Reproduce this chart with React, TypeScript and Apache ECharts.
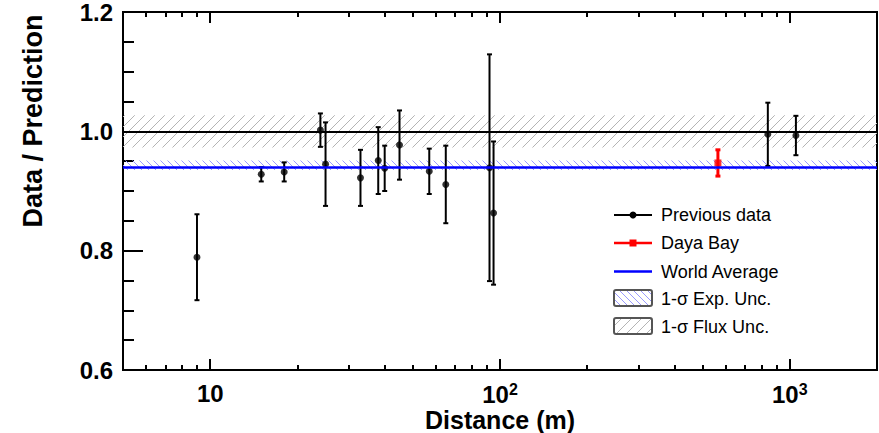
import React, { useEffect, useRef } from 'react';
import * as echarts from 'echarts';

// Previous reactor experiments: baseline (m), data/prediction ratio, 1-sigma error
const distances = [9, 15, 18, 24, 25, 33, 38, 40, 45, 57, 65, 92, 95, 840, 1050];
const ratios = [0.789, 0.928, 0.932, 1.002, 0.945, 0.922, 0.951, 0.938, 0.977, 0.933, 0.911, 0.939, 0.863, 0.995, 0.993];
const errors = [0.072, 0.012, 0.016, 0.028, 0.07, 0.047, 0.056, 0.038, 0.058, 0.038, 0.065, 0.19, 0.12, 0.053, 0.033];

// Daya Bay
const dayaBayDistance = [565];
const dayaBayRatio = [0.947];
const dayaBayError = [0.022];

// Reference lines and bands
const predictionRatio = 1.0;
const fluxUnc = 0.027;
const worldAverage = 0.943;
const expUnc = 0.008;

// Axes
const xMin = 5;
const xMax = 2000;
const xMajorTicks = [10, 100, 1000];
const xMinorTicks = [6, 7, 8, 9, 20, 30, 40, 50, 60, 70, 80, 90, 200, 300, 400, 500, 600, 700, 800, 900];
const yMin = 0.6;
const yMax = 1.2;
const yInterval = 0.2;

const legendLabels = ['Previous data', 'Daya Bay', 'World Average', '1-σ Exp. Unc.', '1-σ Flux Unc.'];

const FONT = "'Liberation Sans', Arial, Helvetica, sans-serif";

function hatch(dir: string, size: number, color: string, width: number) {
  const c = document.createElement('canvas');
  c.width = size;
  c.height = size;
  const ctx = c.getContext('2d')!;
  ctx.strokeStyle = color;
  ctx.lineWidth = width;
  ctx.beginPath();
  for (const o of [-size, 0, size]) {
    if (dir === '/') {
      ctx.moveTo(o - 1, size + 1);
      ctx.lineTo(o + size + 1, -1);
    } else {
      ctx.moveTo(o - 1, -1);
      ctx.lineTo(o + size + 1, size + 1);
    }
  }
  ctx.stroke();
  return { image: c.toDataURL(), repeat: 'repeat', imageWidth: size, imageHeight: size } as any;
}

function errorBarSeries(name: string, xs: number[], ys: number[], es: number[], color: string, lw: number, cap: number, z: number) {
  return {
    type: 'custom',
    name,
    z,
    clip: false,
    xAxisIndex: 0,
    yAxisIndex: 0,
    data: xs.map((x, i) => [x, ys[i], ys[i] - es[i], ys[i] + es[i]]),
    encode: { x: 0, y: 1 },
    renderItem: (params: any, api: any) => {
      const x = api.value(0);
      const top = api.coord([x, api.value(3)]);
      const bot = api.coord([x, api.value(2)]);
      const style = { stroke: color, lineWidth: lw };
      return {
        type: 'group',
        children: [
          { type: 'line', shape: { x1: top[0], y1: top[1], x2: bot[0], y2: bot[1] }, style },
          { type: 'line', shape: { x1: top[0] - cap, y1: top[1], x2: top[0] + cap, y2: top[1] }, style },
          { type: 'line', shape: { x1: bot[0] - cap, y1: bot[1], x2: bot[0] + cap, y2: bot[1] }, style },
        ],
      };
    },
  };
}

export default function App() {
  const ref = useRef<HTMLDivElement>(null);

  useEffect(() => {
    const chart = echarts.init(ref.current!, null, { renderer: 'svg' });
    const grayHatch = hatch('/', 10, '#b4b4b4', 1);
    const blueHatch = hatch('\\', 7, '#9a9aff', 1);

    const tickLine = { color: '#000', width: 2 };
    const supLabel = (v: number) => {
      if (v === 10) return '10';
      if (v === 100) return '10{sup|2}';
      if (v === 1000) return '10{sup|3}';
      return '';
    };

    const xBase = { type: 'log', logBase: 10, min: xMin, max: xMax, splitLine: { show: false }, gridIndex: 0 };

    const option: any = {
      animation: false,
      backgroundColor: '#fff',
      grid: {
        left: 123, right: 2, top: 12, bottom: 63,
        outerBoundsMode: 'none', containLabel: false,
        show: true, borderColor: '#000', borderWidth: 2, backgroundColor: 'transparent',
      },
      xAxis: [
        {
          ...xBase,
          position: 'bottom',
          name: 'Distance (m)',
          nameLocation: 'middle',
          nameGap: 37,
          nameMoveOverlap: false,
          nameTextStyle: { fontFamily: FONT, fontWeight: 'bold', fontSize: 25, lineHeight: 25, color: '#000' },
          axisLine: { show: true, lineStyle: { color: '#000', width: 2 } },
          axisTick: { show: true, inside: true, length: 11, customValues: xMajorTicks, lineStyle: tickLine },
          axisLabel: {
            show: true,
            customValues: xMajorTicks,
            margin: 11,
            color: '#000',
            fontFamily: FONT,
            fontWeight: 'bold',
            fontSize: 24,
            formatter: supLabel,
            rich: {
              sup: { fontFamily: FONT, fontWeight: 'bold', fontSize: 16, color: '#000', verticalAlign: 'top', padding: [0, 0, 11, 0] },
            },
          },
        },
        {
          ...xBase,
          position: 'bottom',
          axisLine: { show: false },
          axisTick: { show: true, inside: true, length: 5, customValues: xMinorTicks, lineStyle: tickLine },
          axisLabel: { show: false },
        },
        {
          ...xBase,
          position: 'top',
          axisLine: { show: true, lineStyle: { color: '#000', width: 2 } },
          axisTick: { show: true, inside: true, length: 11, customValues: xMajorTicks, lineStyle: tickLine },
          axisLabel: { show: false },
        },
        {
          ...xBase,
          position: 'top',
          axisLine: { show: false },
          axisTick: { show: true, inside: true, length: 5, customValues: xMinorTicks, lineStyle: tickLine },
          axisLabel: { show: false },
        },
      ],
      yAxis: [
        {
          type: 'value',
          min: yMin,
          max: yMax,
          interval: yInterval,
          position: 'left',
          axisLine: { show: true, lineStyle: { color: '#000', width: 2 } },
          axisTick: { show: true, inside: true, length: 20, lineStyle: tickLine },
          minorTick: { show: true, splitNumber: 4, length: 11, lineStyle: tickLine },
          splitLine: { show: false },
          minorSplitLine: { show: false },
          axisLabel: {
            margin: 10,
            color: '#000',
            fontFamily: FONT,
            fontWeight: 'bold',
            fontSize: 24,
            lineHeight: 18,
            formatter: (v: number) => v.toFixed(1),
          },
        },
      ],
      series: [
        {
          type: 'line',
          name: 'bands',
          data: [],
          z: 1,
          silent: true,
          markArea: {
            silent: true,
            label: { show: false },
            data: [
              [{ yAxis: predictionRatio - fluxUnc, itemStyle: { color: grayHatch } }, { yAxis: predictionRatio + fluxUnc }],
              [{ yAxis: worldAverage - expUnc, itemStyle: { color: blueHatch } }, { yAxis: worldAverage + expUnc }],
            ],
          },
          markLine: {
            silent: true,
            symbol: ['none', 'none'],
            label: { show: false },
            data: [
              { yAxis: predictionRatio, lineStyle: { color: '#000', width: 2, type: 'solid' } },
              { yAxis: worldAverage, lineStyle: { color: '#0000ff', width: 2.5, type: 'solid' } },
            ],
          },
        },
        errorBarSeries(legendLabels[0], distances, ratios, errors, '#000', 2, 2.5, 3),
        {
          type: 'scatter',
          name: legendLabels[0] + ' points',
          z: 4,
          symbol: 'circle',
          symbolSize: 7,
          itemStyle: { color: '#000' },
          data: distances.map((d, i) => [d, ratios[i]]),
        },
        errorBarSeries(legendLabels[1], dayaBayDistance, dayaBayRatio, dayaBayError, '#ff0000', 3, 2.5, 3),
        {
          type: 'scatter',
          name: legendLabels[1] + ' point',
          z: 4,
          symbol: 'rect',
          symbolSize: 7,
          itemStyle: { color: '#ff0000' },
          data: dayaBayDistance.map((d, i) => [d, dayaBayRatio[i]]),
        },
      ],
      graphic: [
        {
          type: 'text',
          x: 33,
          y: 121,
          rotation: Math.PI / 2,
          style: { text: 'Data / Prediction', fontFamily: FONT, fontWeight: 'bold', fontSize: 27, fill: '#000', align: 'center', verticalAlign: 'middle' },
        },
        {
          type: 'group',
          children: [
            { type: 'line', shape: { x1: 614, y1: 215, x2: 652, y2: 215 }, style: { stroke: '#000', lineWidth: 2 } },
            { type: 'circle', shape: { cx: 633, cy: 215, r: 3.5 }, style: { fill: '#000' } },
            { type: 'text', x: 661, y: 215, style: { text: legendLabels[0], fontFamily: FONT, fontSize: 18, fill: '#000', verticalAlign: 'middle' } },
            { type: 'line', shape: { x1: 614, y1: 243, x2: 652, y2: 243 }, style: { stroke: '#ff0000', lineWidth: 2.5 } },
            { type: 'rect', shape: { x: 629.5, y: 239.5, width: 7, height: 7 }, style: { fill: '#ff0000' } },
            { type: 'text', x: 661, y: 243, style: { text: legendLabels[1], fontFamily: FONT, fontSize: 18, fill: '#000', verticalAlign: 'middle' } },
            { type: 'line', shape: { x1: 614, y1: 271.5, x2: 652, y2: 271.5 }, style: { stroke: '#0000ff', lineWidth: 2.5 } },
            { type: 'text', x: 661, y: 271.5, style: { text: legendLabels[2], fontFamily: FONT, fontSize: 18, fill: '#000', verticalAlign: 'middle' } },
            { type: 'rect', shape: { x: 614, y: 290, width: 38, height: 16, r: 2 }, style: { fill: blueHatch, stroke: '#555', lineWidth: 2 } },
            { type: 'text', x: 661, y: 298.5, style: { text: legendLabels[3], fontFamily: FONT, fontSize: 18, fill: '#000', verticalAlign: 'middle' } },
            { type: 'rect', shape: { x: 614, y: 318, width: 38, height: 16, r: 2 }, style: { fill: grayHatch, stroke: '#555', lineWidth: 2 } },
            { type: 'text', x: 661, y: 326.5, style: { text: legendLabels[4], fontFamily: FONT, fontSize: 18, fill: '#000', verticalAlign: 'middle' } },
          ],
        },
      ],
    };

    chart.setOption(option);
    return () => chart.dispose();
  }, []);

  return <div ref={ref} style={{ position: 'fixed', left: 0, top: 0, width: 879, height: 433 }} />;
}
